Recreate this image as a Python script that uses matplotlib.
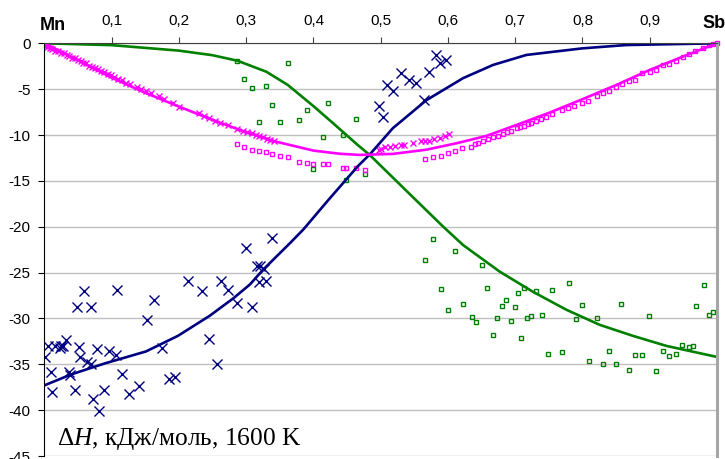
import matplotlib
matplotlib.use("Agg")
import matplotlib.pyplot as plt

# --- lines (smoothed model curves) ---
green_line_x = [0.0, 0.1, 0.2, 0.25, 0.287, 0.33, 0.362, 0.4, 0.429, 0.466, 0.484,
                0.551, 0.593, 0.6225, 0.677, 0.7265, 0.776, 0.8256, 0.875, 0.925, 1.0]
green_line_y = [0.0, -0.2, -0.8, -1.3, -1.9, -3.1, -4.55, -6.85, -8.7, -11.1, -12.2,
                -17.0, -20.0, -22.0, -24.9, -27.1, -29.05, -30.7, -31.9, -33.0, -34.2]

navy_line_x = [0.0, 0.04, 0.09, 0.151, 0.1985, 0.246, 0.281, 0.3055, 0.325, 0.365, 0.385,
               0.422, 0.466, 0.484, 0.518, 0.568, 0.6225, 0.667, 0.7166, 0.8, 0.865, 1.0]
navy_line_y = [-37.3, -36.1, -34.9, -33.6, -31.9, -29.7, -27.8, -26.3, -24.7, -21.8, -20.3,
               -17.1, -13.4, -12.1, -9.26, -6.2, -3.8, -2.36, -1.27, -0.55, -0.19, 0.0]

magenta_line_x = [0.0, 0.05, 0.1, 0.15, 0.2, 0.25, 0.3, 0.343, 0.4, 0.44, 0.469, 0.518,
                  0.568, 0.6126, 0.657, 0.702, 0.751, 0.8008, 0.8504, 0.9, 0.949, 1.0]
magenta_line_y = [0.0, -1.85, -3.75, -5.4, -6.9, -8.35, -9.7, -10.7, -11.7, -12.05, -12.17, -12.06,
                  -11.6, -10.9, -10.1, -8.9, -7.56, -6.07, -4.54, -2.9, -1.46, 0.0]

# --- navy crosses ---
navy_x = [0.001, 0.005, 0.010, 0.012, 0.016, 0.023, 0.025, 0.028, 0.032, 0.036, 0.038,
          0.046, 0.049, 0.051, 0.053, 0.059, 0.064, 0.069, 0.070, 0.073, 0.078, 0.081,
          0.088, 0.096, 0.106, 0.108, 0.116, 0.126, 0.141, 0.153, 0.163, 0.175, 0.185,
          0.194, 0.214, 0.234, 0.245, 0.256, 0.263, 0.273, 0.287, 0.299, 0.309, 0.316,
          0.320, 0.319, 0.326, 0.330, 0.338,
          0.498, 0.503, 0.509, 0.519, 0.530, 0.542, 0.553, 0.565, 0.572, 0.582, 0.588, 0.597]
navy_y = [-34.2, -33.05, -35.8, -38.06, -33.05, -33.2, -33.05, -32.98, -32.4, -35.8, -36.2,
          -37.77, -28.76, -33.1, -34.2, -27.0, -34.7, -28.76, -35.0, -38.75, -33.3, -40.05,
          -37.77, -33.5, -34.03, -26.87, -36.06, -38.2, -37.4, -30.14, -28.04, -33.27, -36.6,
          -36.4, -25.93, -27.0, -32.2, -34.97, -25.93, -26.87, -28.3, -22.3, -28.7, -24.26,
          -24.3, -26.0, -24.6, -25.96, -21.2,
          -6.83, -8.0, -4.54, -5.16, -3.27, -4.0, -4.36, -6.18, -3.16, -1.27, -2.1, -1.82]

# --- magenta crosses ---
magenta_x_x = [0.0, 0.004, 0.008, 0.012, 0.016, 0.020, 0.025, 0.029, 0.033, 0.037, 0.041,
               0.045, 0.050, 0.054, 0.058, 0.062, 0.067, 0.071, 0.075, 0.080, 0.084, 0.089,
               0.094, 0.099, 0.104, 0.109, 0.115, 0.122, 0.128, 0.137, 0.144, 0.151, 0.159,
               0.171, 0.178, 0.191, 0.2005, 0.230, 0.237, 0.245, 0.2535, 0.261, 0.273, 0.287,
               0.2946, 0.3015, 0.308, 0.3144, 0.319, 0.325, 0.331, 0.336, 0.341,
               0.497, 0.501, 0.506, 0.5135, 0.521, 0.530, 0.534, 0.548, 0.5596, 0.5655, 0.572,
               0.579, 0.588, 0.595, 0.6017]
magenta_x_y = [-0.3, -0.35, -0.55, -0.6, -0.8, -0.85, -1.05, -1.1, -1.3, -1.4, -1.55,
               -1.65, -1.8, -1.95, -2.1, -2.2, -2.45, -2.55, -2.7, -2.85, -3.0, -3.15,
               -3.35, -3.5, -3.65, -3.85, -4.05, -4.3, -4.45, -4.8, -5.0, -5.25, -5.45,
               -5.8, -6.1, -6.54, -6.97, -7.63, -7.92, -8.17, -8.43, -8.65, -8.9, -9.3,
               -9.52, -9.63, -9.8, -9.99, -10.1, -10.24, -10.39, -10.53, -10.6,
               -11.6, -11.5, -11.26, -11.33, -11.19, -11.08, -11.08, -10.9, -10.64, -10.7, -10.6,
               -10.46, -10.28, -10.1, -9.88]

# --- green squares ---
green_sq_x = [0.287, 0.297, 0.308, 0.319, 0.330, 0.339, 0.350, 0.362, 0.379, 0.390, 0.400,
              0.414, 0.422, 0.444, 0.449, 0.464, 0.476,
              0.5655, 0.578, 0.589, 0.600, 0.611, 0.622, 0.635, 0.642, 0.651, 0.658, 0.667,
              0.673, 0.680, 0.687, 0.693, 0.700, 0.704, 0.709, 0.713, 0.718, 0.7235, 0.731,
              0.740, 0.749, 0.7547, 0.769, 0.780, 0.791, 0.800, 0.809, 0.8215, 0.830, 0.839,
              0.850, 0.858, 0.869, 0.878, 0.888, 0.899, 0.909, 0.920, 0.929, 0.9395, 0.948,
              0.959, 0.965, 0.9687, 0.980, 0.9886, 0.994]
green_sq_y = [-1.9, -3.89, -4.9, -8.54, -4.69, -6.69, -8.54, -2.15, -8.39, -7.3, -13.7,
              -10.24, -6.54, -10.0, -14.9, -8.25, -14.2,
              -23.6, -21.3, -26.8, -29.05, -22.66, -28.4, -29.85, -30.4, -24.15, -26.66, -31.85,
              -29.96, -28.65, -28.0, -30.3, -28.8, -27.2, -32.1, -26.66, -30.0, -29.7, -27.0,
              -29.6, -33.85, -26.9, -33.7, -26.15, -30.1, -28.5, -34.6, -29.96, -35.0, -33.6,
              -35.0, -28.4, -35.6, -34.0, -34.0, -29.75, -35.7, -33.6, -34.1, -33.85, -32.9,
              -33.15, -33.05, -28.65, -26.4, -29.6, -29.3]

# --- magenta squares ---
magenta_sq_x = [0.287, 0.297, 0.308, 0.319, 0.330, 0.339, 0.350, 0.362, 0.379, 0.390, 0.400,
                0.414, 0.422, 0.444, 0.449, 0.464, 0.476,
                0.5655, 0.578, 0.589, 0.600, 0.611, 0.6215, 0.634, 0.640, 0.645, 0.652, 0.660,
                0.667, 0.674, 0.682, 0.688, 0.694, 0.702, 0.707, 0.713, 0.719, 0.724, 0.731,
                0.739, 0.746, 0.754, 0.769, 0.778, 0.788, 0.800, 0.808, 0.821, 0.830, 0.839,
                0.850, 0.859, 0.869, 0.878, 0.889, 0.900, 0.909, 0.919, 0.928, 0.9395, 0.949,
                0.959, 0.968, 0.979, 0.988, 0.994, 1.0]
magenta_sq_y = [-10.93, -11.3, -11.6, -11.73, -11.87, -12.1, -12.24, -12.39, -12.97, -13.07, -13.18,
                -13.18, -13.18, -13.6, -13.6, -13.6, -13.8,
                -12.64, -12.35, -12.28, -11.98, -11.73, -11.44, -11.26, -10.97, -10.83, -10.6, -10.46,
                -10.24, -10.06, -9.88, -9.7, -9.52, -9.26, -9.15, -9.0, -8.85, -8.65, -8.5,
                -8.28, -8.0, -7.7, -7.27, -7.08, -6.87, -6.5, -6.25, -5.7, -5.41, -5.16,
                -4.76, -4.43, -4.14, -3.96, -3.24, -3.13, -2.87, -2.4, -2.22, -1.9, -1.53,
                -1.17, -0.8, -0.51, -0.22, -0.08, 0.0]

x_ticks = [0.1, 0.2, 0.3, 0.4, 0.5, 0.6, 0.7, 0.8, 0.9]
x_tick_labels = ["0,1", "0,2", "0,3", "0,4", "0,5", "0,6", "0,7", "0,8", "0,9"]
y_ticks = [0, -5, -10, -15, -20, -25, -30, -35, -40, -45]
y_tick_labels = ["0", "-5", "-10", "-15", "-20", "-25", "-30", "-35", "-40", "-45"]

GREEN = "#008000"
NAVY = "#000080"
MAGENTA = "#ff00ff"

plt.rcParams["font.family"] = ["Liberation Sans", "DejaVu Sans"]
plt.rcParams["mathtext.fontset"] = "custom"
plt.rcParams["mathtext.it"] = "Liberation Serif:italic"
plt.rcParams["mathtext.rm"] = "Liberation Serif"

W, H = 725, 459
fig = plt.figure(figsize=(W / 100, H / 100), dpi=100)
ax = fig.add_axes([44.4 / W, 1 - 456 / H, (717 - 44.4) / W, (456 - 43.3) / H])

ax.set_xlim(0, 1)
ax.set_ylim(-45, 0)
ax.set_yticks(y_ticks)
ax.set_yticklabels(y_tick_labels, fontsize=11)
ax.xaxis.tick_top()
ax.set_xticks(x_ticks)
ax.set_xticklabels(x_tick_labels, fontsize=11)
ax.tick_params(axis="x", direction="out", length=4, pad=7, color="#404040")
ax.tick_params(axis="y", direction="out", length=4, pad=6)
ax.grid(axis="y", color="#c0c0c0", linewidth=1)
ax.set_axisbelow(True)

ax.spines["bottom"].set_visible(False)
ax.spines["right"].set_color("#a6a6a6")
ax.spines["right"].set_linewidth(2.2)
ax.spines["top"].set_color("#404040")

ax.plot(green_sq_x, green_sq_y, "s", ms=3.3, mfc="none", mec=GREEN, mew=1, clip_on=False)
ax.plot(magenta_sq_x, magenta_sq_y, "s", ms=3.3, mfc="none", mec=MAGENTA, mew=1, clip_on=False)
ax.plot(navy_x, navy_y, "x", ms=6.5, color=NAVY, mew=1)
ax.plot(magenta_x_x, magenta_x_y, "x", ms=5, color=MAGENTA, mew=1)

ax.plot(green_line_x, green_line_y, color=GREEN, lw=1.9)
ax.plot(navy_line_x, navy_line_y, color=NAVY, lw=1.9)
ax.plot(magenta_line_x, magenta_line_y, color=MAGENTA, lw=1.9)

fig.text(40 / W, 1 - 25 / H, "Mn", ha="left", va="center", fontsize=13, fontweight="bold")
fig.text(702 / W, 1 - 23 / H, "Sb", ha="left", va="center", fontsize=13, fontweight="bold")
fig.text(57 / W, 1 - 445 / H, "Δ$H$, кДж/моль, 1600 K", ha="left", va="baseline",
         fontsize=18.3, family="Liberation Serif")

fig.savefig("out.png", dpi=100)
